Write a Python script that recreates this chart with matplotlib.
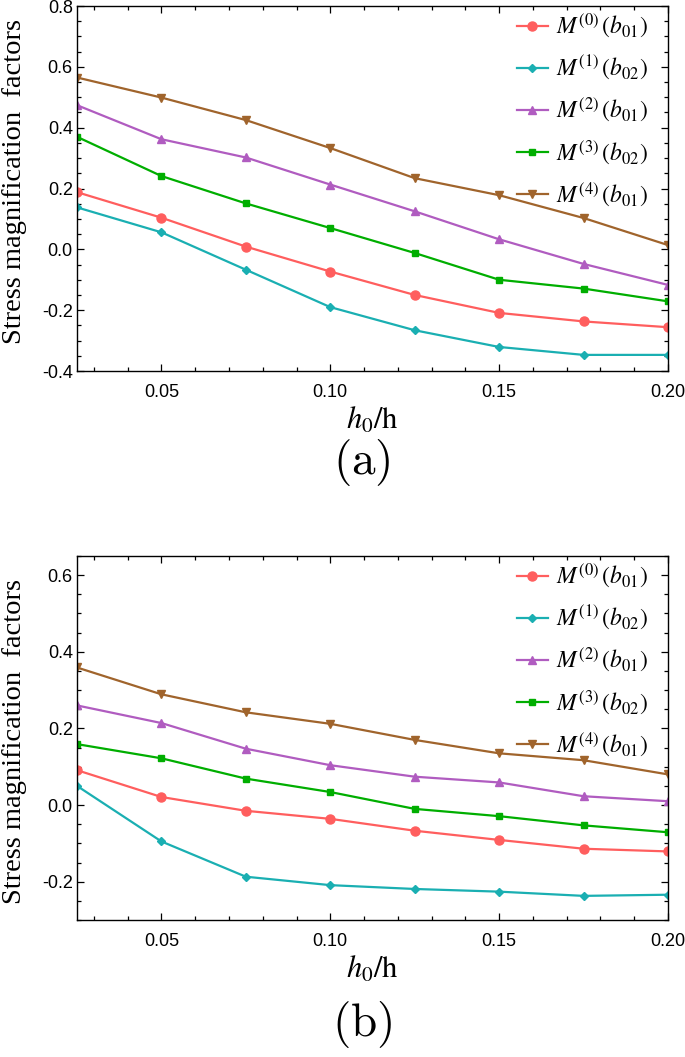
import matplotlib
matplotlib.use("Agg")
import matplotlib.pyplot as plt
from matplotlib.ticker import MultipleLocator, FormatStrFormatter

plt.rcParams['mathtext.fontset'] = 'stix'

# h0/h values
x = [0.025, 0.05, 0.075, 0.10, 0.125, 0.15, 0.175, 0.20]

# panel (a)
a_m0 = [0.188, 0.104, 0.009, -0.073, -0.150, -0.209, -0.237, -0.256]
a_m1 = [0.138, 0.056, -0.067, -0.190, -0.266, -0.321, -0.347, -0.347]
a_m2 = [0.474, 0.362, 0.302, 0.213, 0.125, 0.033, -0.048, -0.117]
a_m3 = [0.370, 0.241, 0.151, 0.070, -0.012, -0.100, -0.129, -0.171]
a_m4 = [0.565, 0.499, 0.425, 0.333, 0.234, 0.178, 0.103, 0.014]

# panel (b)
b_m0 = [0.091, 0.021, -0.015, -0.036, -0.067, -0.091, -0.114, -0.121]
b_m1 = [0.050, -0.095, -0.187, -0.209, -0.219, -0.226, -0.237, -0.234]
b_m2 = [0.260, 0.214, 0.147, 0.104, 0.074, 0.059, 0.023, 0.010]
b_m3 = [0.159, 0.122, 0.069, 0.034, -0.010, -0.029, -0.053, -0.071]
b_m4 = [0.359, 0.289, 0.242, 0.212, 0.170, 0.135, 0.117, 0.080]

labels = [r'$M^{(0)}\,(b_{01})$', r'$M^{(1)}\,(b_{02})$', r'$M^{(2)}\,(b_{01})$',
          r'$M^{(3)}\,(b_{02})$', r'$M^{(4)}\,(b_{01})$']
colors = ['#ff5e5e', '#1aafb2', '#b05cc0', '#00ae00', '#a0642c']
markers = ['o', 'D', '^', 's', 'v']
msizes = [6.5, 4.5, 5.5, 4.5, 5.5]

fig = plt.figure(figsize=(6.85, 10.57), dpi=100)


def draw_panel(rect, series, ylim, tag, tag_y, label_y):
    ax = fig.add_axes(rect)
    for ys, lab, c, m, ms in zip(series, labels, colors, markers, msizes):
        ax.plot(x, ys, color=c, marker=m, markersize=ms, lw=1.6, label=lab)
    ax.set_xlim(0.025, 0.20)
    ax.set_ylim(*ylim)
    ax.xaxis.set_major_locator(MultipleLocator(0.05))
    ax.xaxis.set_minor_locator(MultipleLocator(0.01))
    ax.yaxis.set_major_locator(MultipleLocator(0.2))
    ax.yaxis.set_minor_locator(MultipleLocator(0.05))
    ax.xaxis.set_major_formatter(FormatStrFormatter('%.2f'))
    ax.yaxis.set_major_formatter(FormatStrFormatter('%.1f'))
    ax.tick_params(which='both', direction='in', top=True, right=True, width=0.9)
    ax.tick_params(which='major', length=5)
    ax.tick_params(which='minor', length=2.8)
    ax.tick_params(axis='x', pad=9)
    ax.tick_params(axis='y', pad=3)
    for lbl in ax.get_xticklabels() + ax.get_yticklabels():
        lbl.set_fontfamily('Liberation Sans')
        lbl.set_fontsize(13)
    for sp in ax.spines.values():
        sp.set_linewidth(1.0)
    ax.set_ylabel('Stress magnification  factors', family='Liberation Serif',
                  fontsize=20.5)
    ax.yaxis.set_label_coords(-0.085, label_y)
    ax.set_xlabel(r'$h_0/\mathrm{h}$', fontsize=22, labelpad=3)
    ax.legend(loc='upper right', frameon=False, fontsize=17, handlelength=1.3,
              handletextpad=0.35, labelspacing=0.585, borderaxespad=0.0,
              bbox_to_anchor=(0.982, 1.01))
    fig.text(362 / 685, tag_y, r'$\mathrm{(%s)}$' % tag, ha='center', va='center',
             fontsize=34, math_fontfamily='cm')
    return ax


draw_panel([0.1124, 0.649, 0.8628, 0.3453], [a_m0, a_m1, a_m2, a_m3, a_m4],
           (-0.4, 0.8), 'a', 1 - 462 / 1057, 0.52)
draw_panel([0.1124, 0.1296, 0.8628, 0.3444], [b_m0, b_m1, b_m2, b_m3, b_m4],
           (-0.3, 0.65), 'b', 1 - 1025 / 1057, 0.49)

fig.savefig('out.png', dpi=100)
